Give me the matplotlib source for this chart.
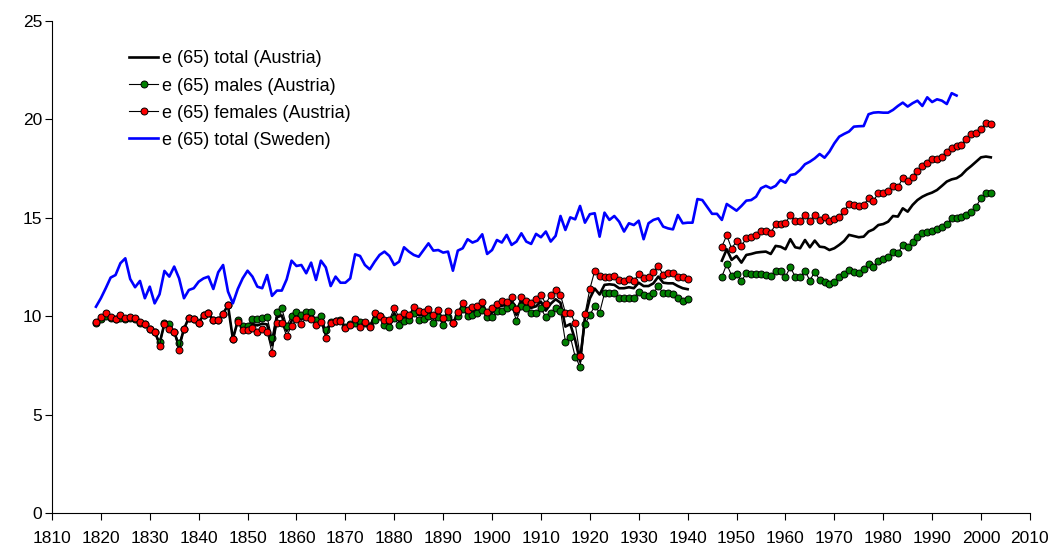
import numpy as np
import matplotlib
matplotlib.use('Agg')
import matplotlib.pyplot as plt

plt.rcParams['font.family'] = ['Liberation Sans', 'DejaVu Sans']

# Austria: 1819-1940 and 1947-2002, Sweden: 1819-1995
years_at1 = np.arange(1819, 1941)
years_at2 = np.arange(1947, 2003)
years_se = np.arange(1819, 1996)

fem_1 = [9.72, 9.98, 10.15, 9.98, 9.86, 10.06, 9.89, 9.98, 9.89, 9.69,
         9.59, 9.33, 9.21, 8.49, 9.59, 9.33, 9.21, 8.28, 9.35, 9.93,
         9.84, 9.67, 10.06, 10.15, 9.79, 9.79, 10.13, 10.57, 8.83, 9.72,
         9.30, 9.30, 9.38, 9.21, 9.33, 9.21, 8.15, 9.64, 9.67, 8.99,
         9.50, 9.86, 9.60, 9.94, 9.84, 9.55, 9.72, 8.91, 9.64, 9.77,
         9.77, 9.38, 9.55, 9.84, 9.47, 9.72, 9.43, 10.18, 10.01, 9.81,
         9.81, 10.40, 9.94, 10.18, 10.06, 10.48, 10.28, 10.23, 10.35, 10.06,
         10.31, 9.89, 10.28, 9.67, 10.23, 10.65, 10.31, 10.45, 10.52, 10.74,
         10.23, 10.40, 10.62, 10.79, 10.74, 10.96, 10.35, 10.96, 10.79, 10.69,
         10.86, 11.08, 10.62, 11.08, 11.33, 11.08, 10.18, 10.18, 9.64, 7.99,
         10.10, 11.38, 12.30, 12.06, 11.98, 12.01, 12.04, 11.84, 11.79, 11.87,
         11.79, 12.14, 11.92, 11.98, 12.26, 12.55, 12.09, 12.21, 12.21, 12.01,
         11.98, 11.87]
fem_2 = [13.53, 14.11, 13.43, 13.82, 13.57, 13.96, 14.04, 14.14, 14.33, 14.33,
         14.24, 14.67, 14.67, 14.72, 15.14, 14.84, 14.84, 15.14, 14.84, 15.14,
         14.89, 15.02, 14.84, 14.92, 15.06, 15.35, 15.68, 15.65, 15.60,
         15.65, 15.99, 15.87, 16.24, 16.24, 16.36, 16.62, 16.55, 17.01, 16.89,
         17.09, 17.38, 17.63, 17.77, 17.97, 17.97, 18.11, 18.36, 18.53, 18.65,
         18.70, 18.99, 19.24, 19.29, 19.50, 19.83, 19.77]

mal_1 = [9.65, 9.85, 10.00, 9.90, 9.85, 9.90, 9.85, 9.90, 9.85, 9.65,
         9.60, 9.35, 9.20, 8.71, 9.64, 9.60, 9.20, 8.62, 9.35, 9.93,
         9.84, 9.67, 10.06, 10.15, 9.79, 9.79, 10.13, 10.55, 8.85, 9.80,
         9.50, 9.50, 9.84, 9.84, 9.90, 9.94, 8.88, 10.23, 10.40, 9.50,
         10.01, 10.23, 10.06, 10.23, 10.23, 9.81, 10.01, 9.30, 9.72, 9.77,
         9.81, 9.47, 9.60, 9.64, 9.72, 9.64, 9.50, 9.81, 10.00, 9.55,
         9.43, 9.89, 9.55, 9.77, 9.81, 10.15, 9.81, 9.84, 10.01, 9.67,
         9.94, 9.55, 9.94, 9.65, 10.01, 10.35, 10.01, 10.06, 10.15, 10.31,
         9.94, 9.94, 10.28, 10.26, 10.40, 10.52, 9.77, 10.52, 10.40, 10.15,
         10.15, 10.40, 9.94, 10.18, 10.40, 10.28, 8.71, 8.96, 7.94, 7.44,
         9.59, 10.06, 10.52, 10.18, 11.16, 11.16, 11.16, 10.94, 10.94, 10.94,
         10.94, 11.25, 11.08, 11.03, 11.16, 11.53, 11.16, 11.16, 11.11, 10.91,
         10.77, 10.86]
mal_2 = [12.01, 12.64, 12.06, 12.14, 11.79, 12.18, 12.14, 12.14, 12.12, 12.09,
         12.06, 12.30, 12.30, 12.01, 12.48, 12.01, 11.98, 12.30, 11.81, 12.26,
         11.84, 11.75, 11.62, 11.75, 12.01, 12.14, 12.35, 12.26, 12.21,
         12.38, 12.65, 12.52, 12.82, 12.89, 12.99, 13.28, 13.19, 13.62, 13.53,
         13.79, 14.04, 14.21, 14.30, 14.35, 14.43, 14.55, 14.67, 14.97, 14.97,
         15.06, 15.14, 15.31, 15.57, 15.99, 16.24, 16.28]

tot_1 = [9.68, 9.92, 10.08, 9.94, 9.86, 9.98, 9.87, 9.94, 9.87, 9.67,
         9.60, 9.34, 9.21, 8.60, 9.62, 9.47, 9.21, 8.45, 9.35, 9.93,
         9.84, 9.67, 10.06, 10.15, 9.79, 9.79, 10.13, 10.56, 8.84, 9.76,
         9.40, 9.40, 9.61, 9.53, 9.62, 9.58, 8.52, 9.94, 10.04, 9.25,
         9.76, 10.05, 9.83, 10.09, 10.04, 9.68, 9.87, 9.11, 9.68, 9.77,
         9.79, 9.43, 9.58, 9.74, 9.60, 9.68, 9.47, 10.00, 10.01, 9.68,
         9.62, 10.15, 9.75, 9.98, 9.94, 10.32, 10.05, 10.04, 10.18, 9.87,
         10.13, 9.72, 10.11, 9.66, 10.12, 10.50, 10.16, 10.26, 10.34, 10.53,
         10.09, 10.17, 10.45, 10.53, 10.57, 10.74, 10.06, 10.74, 10.60, 10.42,
         10.50, 10.74, 10.28, 10.63, 10.86, 10.68, 9.47, 9.60, 8.79, 7.69,
         9.90, 10.90, 11.40, 11.10, 11.59, 11.62, 11.59, 11.42, 11.42, 11.47,
         11.42, 11.70, 11.53, 11.53, 11.67, 12.01, 11.70, 11.67, 11.67, 11.53,
         11.42, 11.37]
tot_2 = [12.82, 13.40, 12.86, 13.06, 12.72, 13.11, 13.16, 13.23, 13.26, 13.28,
         13.16, 13.57, 13.53, 13.40, 13.91, 13.50, 13.45, 13.87, 13.50, 13.84,
         13.53, 13.50, 13.36, 13.45, 13.62, 13.82, 14.13, 14.07, 14.01,
         14.04, 14.30, 14.41, 14.63, 14.68, 14.80, 15.09, 15.06, 15.48, 15.31,
         15.65, 15.90, 16.07, 16.19, 16.28, 16.41, 16.62, 16.84, 16.95, 17.01,
         17.17, 17.43, 17.63, 17.85, 18.07, 18.11, 18.07]

sweden = [10.48, 10.91, 11.42, 11.96, 12.09, 12.69, 12.94, 11.89, 11.47, 11.79,
          10.91, 11.50, 10.65, 11.11, 12.30, 12.01, 12.52, 11.92, 10.91, 11.33,
          11.42, 11.75, 11.92, 12.01, 11.38, 12.23, 12.60, 11.25, 10.65, 11.38,
          11.92, 12.31, 12.01, 11.50, 11.42, 12.09, 11.03, 11.30, 11.30, 11.87,
          12.82, 12.55, 12.60, 12.18, 12.72, 11.84, 12.82, 12.48, 11.53, 12.01,
          11.70, 11.70, 11.92, 13.14, 13.06, 12.60, 12.38, 12.77, 13.11, 13.28,
          13.06, 12.60, 12.77, 13.50, 13.28, 13.11, 13.02, 13.36, 13.70, 13.33,
          13.36, 13.23, 13.28, 12.31, 13.33, 13.45, 13.91, 13.74, 13.84, 14.16,
          13.16, 13.36, 13.87, 13.74, 14.13, 13.62, 13.79, 14.21, 13.79, 13.67,
          14.18, 14.01, 14.30, 13.79, 14.08, 15.09, 14.38, 15.02, 14.92, 15.60,
          14.75, 15.18, 15.23, 14.04, 15.26, 14.89, 15.09, 14.80, 14.30, 14.72,
          14.63, 14.85, 13.91, 14.72, 14.89, 14.97, 14.55, 14.46, 14.41, 15.14,
          14.72, 14.75,
          14.75, 15.95, 15.90, 15.55, 15.20, 15.20, 14.89,
          15.70, 15.53, 15.36, 15.60, 15.87, 15.90, 16.07, 16.50, 16.62, 16.50,
          16.62, 16.92, 16.78, 17.17, 17.22, 17.43, 17.72, 17.85, 18.02, 18.24,
          18.05, 18.36, 18.78, 19.12, 19.26, 19.38,
          19.63, 19.65, 19.66, 20.26, 20.34, 20.36, 20.34, 20.34, 20.48, 20.68,
          20.85, 20.65, 20.82, 20.95, 20.68, 21.12, 20.88, 21.02, 20.95, 20.78,
          21.33, 21.21]

labels = ['e (65) total (Austria)', 'e (65) males (Austria)',
          'e (65) females (Austria)', 'e (65) total (Sweden)']

# join the two Austrian periods with a gap
x_at = np.concatenate([years_at1, [np.nan], years_at2])
def join(a, b):
    return np.concatenate([a, [np.nan], b])

fig = plt.figure(figsize=(10.56, 5.47), dpi=100)
ax = fig.add_axes([0.0492, 0.0622, 0.9261, 0.8995])

ax.plot(x_at, join(tot_1, tot_2), color='black', lw=1.9, label=labels[0], zorder=2)
ax.plot(x_at, join(mal_1, mal_2), color='black', lw=0.8, marker='o', ms=5,
        mfc='#008000', mec='black', mew=0.7, label=labels[1], zorder=3)
ax.plot(x_at, join(fem_1, fem_2), color='black', lw=0.8, marker='o', ms=5,
        mfc='#ff0000', mec='black', mew=0.7, label=labels[2], zorder=4)
ax.plot(years_se, sweden, color='#0000ff', lw=1.9, label=labels[3], zorder=5)

ax.set_xlim(1810, 2010)
ax.set_ylim(0, 25)
ax.set_xticks(np.arange(1810, 2011, 10))
ax.set_yticks(np.arange(0, 26, 5))
ax.spines['top'].set_visible(False)
ax.spines['right'].set_visible(False)
ax.tick_params(direction='out', length=5, width=0.8, labelsize=12.5)
ax.tick_params(axis='x', pad=8)
ax.tick_params(axis='y', pad=2)

leg = ax.legend(loc='upper left', bbox_to_anchor=(0.079, 0.94), frameon=False,
                fontsize=13, handlelength=1.6, handletextpad=0.2,
                labelspacing=0.56, borderpad=0, borderaxespad=0)

fig.savefig('out.png', dpi=100)
